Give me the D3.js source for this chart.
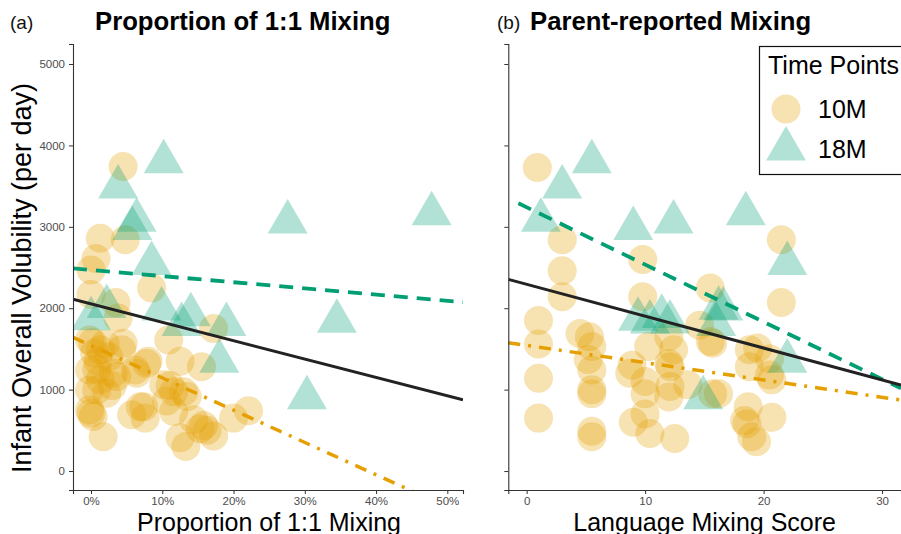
<!DOCTYPE html>
<html><head><meta charset="utf-8">
<script src="https://cdn.jsdelivr.net/npm/d3@7/dist/d3.min.js"></script>
<style>
html,body{margin:0;padding:0;background:#fff;}
svg{display:block;font-family:"Liberation Sans",Arial,Helvetica,sans-serif;}
</style></head>
<body>
<svg id="chart" width="901" height="534"></svg>
<script>
// ---------- DATA ----------
// Panel (a): proportion of 1:1 mixing (%) vs volubility
const mixA_10M = [[4.5,3740],[1.3,2860],[4.8,2840],[0.7,2610],[0.0,2470],[8.5,2250],[0.0,2170],[3.5,2070],[3.8,1880],[17.2,1750],[10.9,1610],[-0.2,1610],[0.2,1580],[4.5,1570],[2.0,1560],[1.3,1490],[4.3,1490],[0.5,1450],[1.0,1350],[12.5,1350],[15.5,1280],[8.0,1350],[7.8,1320],[6.2,1240],[-0.2,1240],[3.1,1200],[6.4,1200],[1.3,1120],[3.6,1160],[10.2,1060],[11.1,1050],[11.6,975],[13.0,975],[-0.2,995],[0.8,995],[2.2,955],[13.5,915],[10.6,860],[6.9,790],[7.4,790],[-0.2,750],[0.0,710],[0.3,670],[5.7,690],[7.6,650],[11.6,730],[22.1,740],[20.0,650],[14.4,630],[15.8,560],[16.3,500],[15.3,520],[12.5,410],[13.3,300],[1.7,420],[17.2,430],[2.5,1400],[0.8,1250],[3.0,1050]];
const mixA_18M = [[10.2,3800],[3.8,3490],[6.4,3080],[5.8,2980],[8.5,2550],[27.6,3060],[47.8,3160],[34.5,1840],[30.3,900],[19.0,1800],[18.0,1350],[14.0,1920],[12.7,1800],[9.9,1990],[2.2,2020],[0.0,1870]];
// Panel (b): parent-reported language mixing score vs volubility
const mixB_10M = [[0.9,3730],[3.0,2840],[3.0,2460],[3.0,2140],[9.8,2600],[9.8,2140],[21.5,2840],[21.5,2070],[15.5,2250],[1.0,1850],[1.0,1560],[1.0,1140],[1.0,650],[4.5,1690],[5.3,1650],[5.5,1530],[5.2,1370],[5.5,1240],[5.5,1000],[5.5,950],[5.5,490],[5.5,420],[8.9,1300],[8.7,1200],[9.0,600],[10.0,700],[10.4,460],[10.0,950],[10.0,1100],[10.3,1530],[12.4,1490],[12.0,1650],[12.0,1320],[12.1,1280],[12.1,1040],[12.0,910],[12.5,400],[13.6,1060],[14.6,1790],[15.5,1590],[15.7,1570],[16.2,950],[15.7,950],[19.5,1510],[18.8,1490],[18.8,1280],[20.5,1380],[20.7,1120],[20.5,1180],[18.7,790],[20.7,660],[18.4,620],[18.6,580],[19.0,420],[19.4,360]];
const mixB_18M = [[5.5,3800],[3.0,3490],[1.2,3080],[9.0,2980],[12.4,3060],[18.5,3160],[22.0,2550],[14.9,900],[22.0,1350],[16.2,2000],[16.6,1990],[16.0,1800],[9.4,1865],[11.4,1900],[12.1,1830],[10.4,1830]];
// Fitted lines: [x0, x1], [y0, y1]
const fitA_all = [[-2.53, 52.2],[2110, 875]];
const fitA_18M = [[-2.53, 52.2],[2490, 2075]];
const fitA_10M = [[-2.53, 52.2],[1642, -530]];
const fitB_all = [[-1.55, 31.6],[2355, 1057]];
const fitB_18M = [[-0.7, 31.6],[3289, 1016]];
const fitB_10M = [[-1.55, 31.6],[1577, 872]];
// Ticks and labels
const yTicks = [0,1000,2000,3000,4000,5000];
const xTicksA = [0,10,20,30,40,50];
const xTicksB = [0,10,20,30];
const groups = ["10M","18M"];
const titles = ["Proportion of 1:1 Mixing","Parent-reported Mixing"];
const xLabels = ["Proportion of 1:1 Mixing","Language Mixing Score"];
const yLabel = "Infant Overall Volubility (per day)";

// ---------- STYLE ----------
const ORANGE = "#E69F00", GREEN = "#009E73";
const svg = d3.select("#chart");
const yTop = 44, yBot = 490;
const y = d3.scaleLinear().domain([-233, 5246]).range([yBot, yTop]);

const panels = [
  {id:"a", x: d3.scaleLinear().domain([-2.53, 52.2]).range([73, 463]), c:mixA_10M, t:mixA_18M,
   fits:[[fitA_10M,ORANGE,"12,8,3,8",3.5],[fitA_18M,GREEN,"14,9",3.8],[fitA_all,"#222",null,3]],
   ticks:xTicksA, fmt:d=>d+"%", showY:true, title:titles[0], xl:xLabels[0], tag:"(a)", tagX:10, titleX:95, xlOff:1},
  {id:"b", x: d3.scaleLinear().domain([-1.55, 31.6]).range([508.3, 901]), c:mixB_10M, t:mixB_18M,
   fits:[[fitB_10M,ORANGE,"12,8,3,8",3.5],[fitB_18M,GREEN,"14,9",3.8],[fitB_all,"#222",null,3]],
   ticks:xTicksB, fmt:d=>d, showY:false, title:titles[1], xl:xLabels[1], tag:"(b)", tagX:497, titleX:530, xlOff:0}
];

const tri = d3.symbol().type(d3.symbolTriangle).size(690);
const R = 14.5;

panels.forEach(p => {
  const [x0,x1] = p.x.range();
  const g = svg.append("g");
  const clipId = "clip-"+p.id;
  svg.append("clipPath").attr("id",clipId).append("rect")
    .attr("x",x0).attr("y",yTop).attr("width",x1-x0).attr("height",yBot-yTop);
  const plot = g.append("g").attr("clip-path",`url(#${clipId})`);
  plot.selectAll("circle.pt").data(p.c).join("circle")
    .attr("cx",d=>p.x(d[0])).attr("cy",d=>y(d[1])).attr("r",R)
    .attr("fill",ORANGE).attr("fill-opacity",0.3);
  plot.selectAll("path.tri").data(p.t).join("path")
    .attr("d",tri).attr("transform",d=>`translate(${p.x(d[0])},${y(d[1])})`)
    .attr("fill",GREEN).attr("fill-opacity",0.3);
  p.fits.forEach(([f,col,dash,w]) => {
    plot.append("line")
      .attr("x1",p.x(f[0][0])).attr("x2",p.x(f[0][1]))
      .attr("y1",y(f[1][0])).attr("y2",y(f[1][1]))
      .attr("stroke",col).attr("stroke-width",w)
      .attr("stroke-dasharray",dash);
  });
  // axes
  const ax = g.append("g").attr("transform",`translate(0,${yBot})`)
    .call(d3.axisBottom(p.x).tickValues(p.ticks).tickFormat(p.fmt).tickSize(4).tickPadding(3));
  const ay = g.append("g").attr("transform",`translate(${x0},0)`)
    .call(d3.axisLeft(y).tickValues(yTicks).tickSize(4).tickPadding(4).tickFormat(p.showY? d=>d : ""));
  [ax,ay].forEach(a=>{
    a.select(".domain").attr("stroke","#333").attr("stroke-width",1.1);
    a.selectAll(".tick line").attr("stroke","#333").attr("stroke-width",1);
    a.selectAll(".tick text").attr("fill","#4D4D4D").attr("font-size",11.5)
      .attr("font-family","'Liberation Sans',Arial,sans-serif");
  });
  // titles
  svg.append("text").attr("x",p.tagX).attr("y",29).attr("font-size",19).attr("fill","#111").text(p.tag);
  svg.append("text").attr("x",p.titleX).attr("y",30).attr("font-size",25.7).attr("font-weight","bold")
    .attr("fill","#000").text(p.title);
  svg.append("text").attr("x",(x0+x1)/2 + p.xlOff).attr("y",530.5).attr("text-anchor","middle")
    .attr("font-size",25).attr("fill","#000").text(p.xl);
});

svg.append("text").attr("transform",`translate(31,${(yTop+yBot)/2+11}) rotate(-90)`)
  .attr("text-anchor","middle").attr("font-size",27).attr("fill","#000").text(yLabel);

// legend
const lg = svg.append("g");
lg.append("rect").attr("x",759.5).attr("y",46.5).attr("width",150).attr("height",128)
  .attr("fill","#fff").attr("stroke","#111").attr("stroke-width",1.2);
lg.append("text").attr("x",768).attr("y",74).attr("font-size",25).text("Time Points");
lg.append("circle").attr("cx",786).attr("cy",109).attr("r",R).attr("fill",ORANGE).attr("fill-opacity",0.3);
lg.append("path").attr("d",tri).attr("transform","translate(786,149)").attr("fill",GREEN).attr("fill-opacity",0.3);
lg.selectAll("text.lab").data(groups).join("text").attr("class","lab")
  .attr("x",818).attr("y",(d,i)=>118+i*40).attr("font-size",25).text(d=>d);
</script>
</body></html>
